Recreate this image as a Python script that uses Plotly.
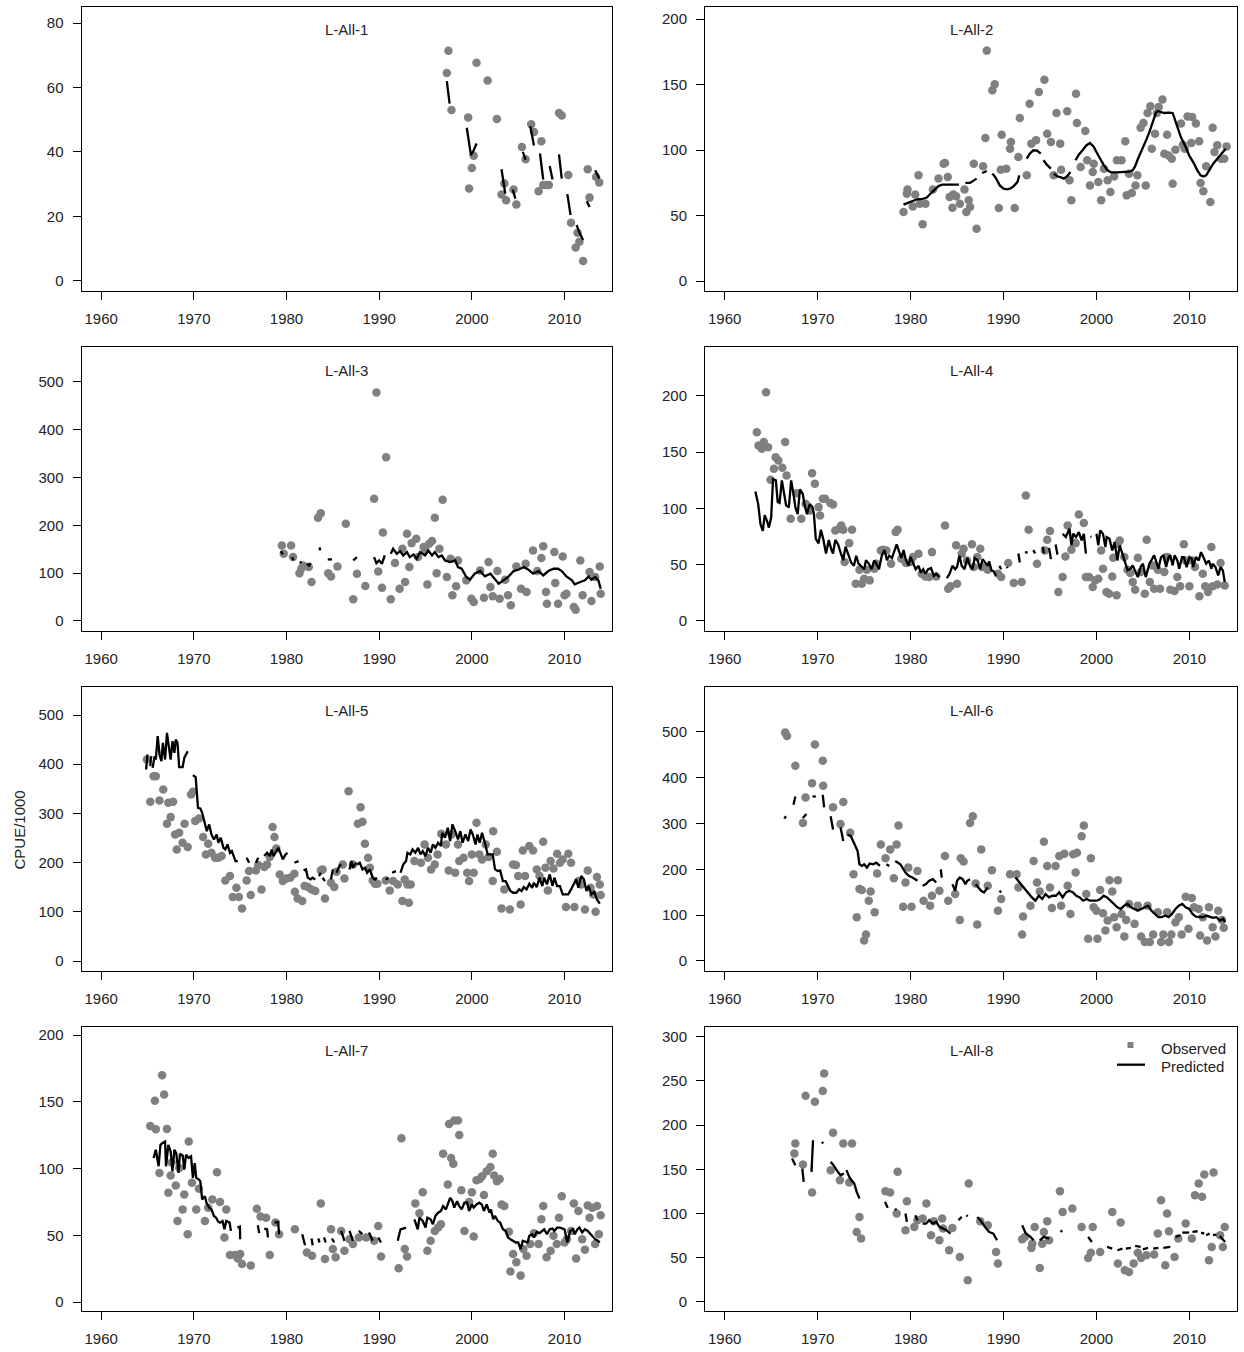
import plotly.graph_objects as go

# ---------------- data (year, CPUE/1000) ----------------
titles = ["L-All-1", "L-All-2", "L-All-3", "L-All-4", "L-All-5", "L-All-6", "L-All-7", "L-All-8"]
x_ticks = [1960, 1970, 1980, 1990, 2000, 2010]
y_ticks = [
    [0, 20, 40, 60, 80],
    [0, 50, 100, 150, 200],
    [0, 100, 200, 300, 400, 500],
    [0, 50, 100, 150, 200],
    [0, 100, 200, 300, 400, 500],
    [0, 100, 200, 300, 400, 500],
    [0, 50, 100, 150, 200],
    [0, 50, 100, 150, 200, 250, 300],
]

obs_1 = [(1997.47, 71.4), (1997.3, 64.5), (2000.5, 67.7), (2001.7, 62.2), (1997.8, 53.0), (1999.6, 50.7),
         (2002.7, 50.2), (2000.2, 38.8), (2000.0, 35.0), (1999.7, 28.6), (2003.5, 30.2), (2003.2, 26.8),
         (2003.7, 25.0), (2004.5, 28.3), (2004.8, 23.7), (2005.4, 41.5), (2005.8, 37.7), (2006.4, 48.6),
         (2006.7, 46.2), (2007.5, 43.3), (2007.2, 27.8), (2007.7, 29.7), (2008.0, 29.7), (2008.3, 29.7),
         (2009.4, 52.1), (2009.7, 51.3), (2010.4, 32.8), (2010.7, 18.0), (2011.4, 14.9), (2011.6, 12.1),
         (2011.2, 10.3), (2012.0, 6.1), (2012.5, 34.6), (2012.7, 25.8), (2013.4, 32.2), (2013.75, 30.5)]
pred_1 = [
    [(1997.3, 62), (1997.4, 60), (1997.5, 57), (1997.6, 55)],
    [(1999.45, 47.5), (1999.7, 43), (1999.9, 39), (2000.2, 40.5), (2000.5, 42.6)],
    [(2003.2, 34.6), (2003.4, 31), (2003.6, 27.1)],
    [(2004.4, 28.3), (2004.7, 25.5)],
    [(2005.5, 40), (2005.8, 37.5)],
    [(2006.3, 48), (2006.5, 45), (2006.7, 42)],
    [(2007.35, 39.5), (2007.5, 35), (2007.7, 31.4)],
    [(2008.4, 35.6), (2008.7, 31.4)],
    [(2009.4, 39.2), (2009.7, 31.7)],
    [(2010.3, 26.9), (2010.5, 23), (2010.65, 20.4)],
    [(2011.3, 17.3), (2011.6, 15), (2012.0, 12.6)],
    [(2012.4, 24.7), (2012.7, 22.9)],
    [(2013.3, 34.3), (2013.75, 31.7)],
]

obs_2 = [(1979.24, 52.7), (1979.6, 66.7), (1979.67, 69.8), (1980.24, 57.0), (1980.5, 66), (1980.85, 80.7),
         (1981.0, 59), (1981.3, 43.3), (1981.6, 59), (1982.4, 69.8), (1983.0, 78.2), (1983.55, 89.6),
         (1983.7, 90.1), (1984.0, 79.4), (1984.2, 64.2), (1984.5, 56), (1984.6, 66), (1984.9, 64.7),
         (1985.3, 59), (1985.8, 69.8), (1986.0, 52.7), (1986.25, 61.6), (1986.4, 56.5), (1986.8, 89.6),
         (1987.1, 40), (1987.8, 87.6), (1988.05, 109.2), (1988.2, 175.9), (1988.8, 145.6), (1989.05, 150.2),
         (1989.5, 55.8), (1989.7, 85), (1989.8, 111.7), (1990.3, 85.8), (1990.7, 101), (1990.8, 106.1),
         (1991.2, 55.8), (1991.6, 94.7), (1991.75, 124.5), (1992.5, 80.7), (1992.8, 135.4), (1993.0, 104.9),
         (1993.5, 107.4), (1993.8, 144.3), (1994.4, 153.7), (1994.7, 112.5), (1995.1, 106.1), (1995.4, 80.7),
         (1995.7, 128.3), (1996.1, 104.9), (1996.2, 85), (1996.85, 129.6), (1997.1, 76.9), (1997.3, 61.6),
         (1997.8, 143), (1997.9, 120.6), (1998.3, 87.1), (1998.8, 114.5), (1999.0, 92.2), (1999.3, 73),
         (1999.6, 83.2), (1999.7, 89.6), (2000.2, 75.6), (2000.5, 61.6), (2000.8, 85.8), (2001.2, 76.9),
         (2001.5, 68), (2001.9, 79.9), (2002.2, 92.2), (2002.7, 92.2), (2003.1, 106.7), (2003.25, 65.4),
         (2003.5, 82), (2003.8, 67.2), (2004.2, 73), (2004.4, 80.7), (2004.75, 117.1), (2005.05, 120.6),
         (2005.3, 73), (2005.5, 128.3), (2005.8, 133.4), (2005.95, 101), (2006.3, 112.5), (2006.5, 128.3),
         (2006.7, 132.9), (2007.1, 138.5), (2007.3, 97.2), (2007.6, 111.7), (2007.75, 95.9), (2008.1, 93.4),
         (2008.2, 74.3), (2008.5, 100.3), (2009.1, 120.2), (2009.3, 104.1), (2009.5, 101), (2009.8, 125.7),
         (2010.2, 105.4), (2010.3, 125.2), (2010.7, 120.2), (2011.05, 106.7), (2011.2, 74.8), (2011.5, 68.5),
         (2011.8, 87.6), (2012.25, 60.3), (2012.5, 117.1), (2012.7, 98.5), (2013.0, 103.6), (2013.4, 93.4),
         (2013.75, 93.4), (2014.0, 102.8)]
pred_2 = [
    [(1979.24, 58.3), (1980.0, 60.5), (1980.7, 62.4), (1981.3, 62.8), (1981.75, 63.7), (1982.1, 66.5),
     (1982.5, 69.3), (1983.0, 72.5), (1983.4, 73.6), (1984.3, 73.6), (1985.2, 73.6)],
    [(1985.9, 74.9), (1986.4, 74.9), (1987.1, 78.2)],
    [(1987.7, 82.5), (1988.2, 84)],
    [(1988.8, 82), (1989.1, 79.5), (1989.3, 76.9), (1989.6, 73), (1990.0, 70.5), (1990.4, 70), (1990.7, 70.5),
     (1991.1, 72.5), (1991.5, 75.6), (1991.7, 80.7)],
    [(1992.5, 93.4), (1992.8, 97), (1993.2, 99.8), (1993.6, 99.5), (1994.0, 97.2)],
    [(1994.3, 92.2), (1994.7, 88.5), (1995.1, 85.8)],
    [(1995.4, 82), (1995.8, 80), (1996.1, 79.4), (1996.5, 78.2), (1996.9, 80.5), (1997.2, 83.2)],
    [(1997.75, 92.2), (1998.1, 96.5), (1998.5, 99.8), (1998.9, 103.5), (1999.3, 105.4), (1999.7, 102.5),
     (2000.1, 97.2), (2000.45, 92.5), (2000.8, 88.3), (2001.2, 84.5), (2001.5, 83.2), (2002.2, 83),
     (2003.0, 83.2), (2003.5, 83.5), (2003.9, 84.5), (2004.15, 87.5), (2004.4, 92.2), (2004.75, 97.5),
     (2005.1, 103.6), (2005.4, 108.5), (2005.7, 113.8), (2006.0, 120.5), (2006.2, 125.2), (2006.4, 128.5),
     (2006.6, 129.8), (2007.3, 128.3), (2007.8, 128.5), (2008.2, 128.3), (2008.45, 123), (2008.7, 117.6),
     (2009.1, 109.5), (2009.6, 102.3), (2010.0, 95.5), (2010.5, 89.6), (2010.85, 84.5), (2011.2, 80.7),
     (2011.5, 79.8), (2011.8, 80.7), (2012.05, 83.5), (2012.3, 87.1), (2012.6, 90), (2013.0, 93.4),
     (2013.45, 97.5), (2013.9, 101)],
]

obs_3 = [(1979.5, 158), (1979.7, 140.5), (1980.5, 158), (1980.7, 133.6), (1981.4, 100), (1981.6, 109),
         (1981.8, 116), (1982.4, 112.7), (1982.7, 81.4), (1983.4, 215.7), (1983.7, 225.4), (1984.5, 100),
         (1984.8, 93.2), (1985.5, 114.1), (1986.4, 203.2), (1987.2, 45.2), (1987.6, 98.8), (1988.5, 73),
         (1989.45, 255.4), (1989.7, 478), (1989.9, 103.7), (1990.3, 69.6), (1990.4, 185.1), (1990.75, 342.4),
         (1991.25, 45.2), (1991.7, 121), (1992.2, 67.5), (1992.5, 151), (1992.8, 81.4), (1993.0, 182.3),
         (1993.25, 112.7), (1993.5, 162.8), (1994.0, 171.9), (1994.2, 133.6), (1994.8, 154.5), (1994.95, 147.5),
         (1995.2, 76.5), (1995.4, 161.4), (1995.7, 167), (1996.0, 215.7), (1996.2, 100), (1996.5, 151),
         (1996.85, 253.3), (1997.3, 91.8), (1997.7, 130.1), (1997.9, 53.6), (1998.3, 72.4), (1998.5, 126.6),
         (1999.4, 84.9), (1999.95, 46.6), (2000.2, 39.6), (2000.9, 105.8), (2001.3, 48.7), (2001.8, 123.1),
         (2002.0, 71), (2002.25, 51.5), (2002.75, 104.4), (2003.0, 46.6), (2003.6, 86.3), (2003.9, 53.6),
         (2004.2, 32.7), (2004.8, 114.1), (2005.3, 67.5), (2005.8, 119.7), (2005.9, 60.5), (2006.6, 147.5),
         (2007.05, 104.4), (2007.5, 131.5), (2007.7, 156.5), (2008.0, 60.5), (2008.1, 36.2), (2008.9, 144),
         (2009.0, 79.3), (2009.3, 36.2), (2009.8, 135), (2010.0, 53.6), (2010.2, 57), (2011.0, 29.2),
         (2011.2, 23.6), (2011.7, 126.6), (2011.95, 53.6), (2012.7, 102.3), (2012.9, 41.7), (2013.3, 91.8),
         (2013.8, 114.1), (2013.9, 57)]
pred_3 = [
    [(1979.4, 146), (1979.6, 139)],
    [(1980.6, 133.6), (1980.75, 126.6)],
    [(1981.45, 124.5), (1981.6, 121)],
    [(1982.2, 119.7), (1982.45, 116), (1982.6, 121)],
    [(1983.55, 154), (1983.65, 147.5)],
    [(1984.45, 128.7), (1984.9, 128.7)],
    [(1987.2, 126.6), (1987.6, 133.6)],
    [(1989.45, 133.6), (1989.7, 121), (1990.0, 126.6), (1990.3, 119.7), (1990.6, 137)],
    [(1991.25, 140.5), (1991.5, 151), (1991.9, 140.5), (1992.25, 146), (1992.6, 137), (1993.0, 144),
     (1993.3, 133.6), (1993.7, 139), (1994.05, 130.1), (1994.4, 144), (1994.95, 137), (1995.3, 147.5),
     (1995.7, 137), (1996.0, 144), (1996.4, 133.6), (1996.75, 137), (1997.1, 126.6), (1997.65, 123.1),
     (1998.2, 126.6), (1998.5, 112.7), (1998.9, 109.2), (1999.4, 91.8), (1999.8, 86.3), (2000.3, 98.8),
     (2000.9, 104.4), (2001.4, 93.2), (2002.0, 98.8), (2002.3, 91.8), (2002.9, 78), (2003.4, 84.9),
     (2003.9, 91.8), (2004.5, 104.4), (2005.0, 107.1), (2005.6, 112.7), (2006.1, 107.1), (2006.6, 98.8),
     (2007.2, 104.4), (2007.7, 95.3), (2008.25, 104.4), (2008.8, 109.2), (2009.3, 109.2), (2009.7, 104.4),
     (2010.2, 93.2), (2010.8, 84.9), (2011.1, 76.5), (2011.7, 81.4), (2012.2, 84.9), (2012.6, 93.2),
     (2012.9, 86.3), (2013.3, 91.8), (2013.65, 84.9), (2013.9, 67.5)],
]

obs_4 = [(1963.46, 167.8), (1963.64, 156), (1963.83, 155.1), (1964.0, 153), (1964.2, 159), (1964.45, 203.3),
         (1964.67, 154.5), (1964.93, 125.5), (1965.3, 135.3), (1965.48, 145.6), (1965.77, 142.6), (1966.2, 136.1),
         (1966.5, 159), (1966.66, 129.3), (1967.1, 90.8), (1967.7, 113.6), (1968.24, 90.8), (1968.7, 104.2),
         (1969.16, 98.2), (1969.4, 131.4), (1969.7, 121.9), (1970.1, 101.2), (1970.26, 93.8), (1970.55, 108.6),
         (1970.8, 108.6), (1971.36, 104.8), (1971.66, 103.6), (1971.9, 80.5), (1972.3, 81.9), (1972.54, 84.9),
         (1972.76, 81.1), (1972.9, 52.4), (1973.4, 69.2), (1973.7, 81.1), (1974.1, 33.1), (1974.5, 45.5),
         (1974.75, 33.1), (1975.0, 37.6), (1975.3, 45.5), (1975.6, 36.1), (1976.1, 46.5), (1976.3, 50.9),
         (1976.8, 62.7), (1977.06, 63.3), (1977.4, 62.7), (1977.9, 50.9), (1978.4, 79), (1978.6, 81.1),
         (1979.0, 55.3), (1979.5, 51.5), (1980.0, 52.4), (1980.26, 56.8), (1980.85, 59.8), (1981.2, 42),
         (1981.6, 39.6), (1982.0, 39), (1982.3, 61.2), (1982.76, 39.6), (1983.7, 84.9), (1984.05, 28.7),
         (1984.3, 30.8), (1984.9, 67.2), (1985.0, 33.1), (1985.5, 59.8), (1985.7, 64.2), (1986.07, 53.8),
         (1986.6, 68.1), (1986.8, 47.9), (1987.17, 56.8), (1987.5, 64.2), (1987.7, 47.9), (1988.3, 45.5),
         (1989.4, 42), (1989.75, 39), (1990.5, 51.5), (1991.1, 33.7), (1991.95, 34.6), (1992.4, 111.6),
         (1992.7, 81.1), (1993.6, 50.9), (1994.45, 62.7), (1994.7, 72.2), (1995.0, 79.9), (1995.9, 25.7),
         (1996.36, 39), (1996.66, 57.4), (1996.9, 84.9), (1997.3, 63.3), (1997.76, 69.2), (1998.1, 94.7),
         (1998.64, 87), (1998.86, 39), (1999.2, 39), (1999.6, 30.2), (1999.86, 36.1), (2000.2, 37.6),
         (2000.5, 62.7), (2000.7, 46.5), (2001.07, 25.7), (2001.36, 24.2), (2001.7, 39.6), (2001.8, 56.2),
         (2002.17, 22.8), (2002.3, 68.6), (2002.5, 71.6), (2003.0, 56.8), (2003.35, 45.5), (2003.64, 42.6),
         (2003.9, 34.6), (2004.16, 27.8), (2004.45, 56.2), (2004.75, 43.5), (2005.2, 24.2), (2005.4, 72.2),
         (2005.74, 34.6), (2006.0, 49.4), (2006.2, 28.7), (2006.6, 45.5), (2006.84, 28.7), (2007.3, 43.5),
         (2007.6, 56.8), (2007.94, 27.8), (2008.4, 26.6), (2008.7, 39), (2009.0, 30.8), (2009.4, 68.1),
         (2009.6, 53.8), (2010.0, 30.8), (2010.26, 53.8), (2010.6, 47.9), (2011.07, 21.9), (2011.44, 42),
         (2011.7, 30.8), (2012.0, 25.7), (2012.36, 65.7), (2012.5, 30.8), (2013.0, 32.5), (2013.35, 51.5),
         (2013.8, 31.6)]
pred_4 = [
    [(1963.3, 115), (1963.6, 104), (1963.85, 86), (1964.1, 80), (1964.3, 94), (1964.55, 89), (1964.75, 83),
     (1965.0, 92), (1965.2, 126), (1965.5, 125), (1965.7, 106), (1965.9, 105), (1966.15, 125), (1966.4, 113),
     (1966.6, 103), (1966.9, 101), (1967.15, 125), (1967.4, 113), (1967.6, 101), (1967.85, 95), (1968.1, 117),
     (1968.4, 113), (1968.6, 103), (1968.85, 95), (1969.15, 104), (1969.45, 101), (1969.6, 95), (1969.8, 73),
     (1970.1, 69), (1970.35, 81), (1970.6, 73), (1970.9, 60), (1971.2, 72), (1971.45, 64), (1971.65, 60),
     (1971.9, 72), (1972.2, 68), (1972.5, 60), (1972.75, 54), (1973.0, 66), (1973.3, 58), (1973.6, 52),
     (1973.9, 49), (1974.15, 58), (1974.4, 51), (1974.7, 48), (1975.0, 46), (1975.2, 54), (1975.5, 51),
     (1975.8, 46), (1976.1, 54), (1976.3, 51), (1976.6, 46), (1976.9, 58), (1977.2, 63), (1977.45, 54),
     (1977.7, 58), (1978.0, 56), (1978.3, 63), (1978.5, 68), (1978.75, 62), (1979.0, 56), (1979.25, 63),
     (1979.5, 54), (1979.8, 49), (1980.0, 57), (1980.3, 51), (1980.55, 46), (1980.85, 49), (1981.1, 43),
     (1981.35, 46), (1981.6, 42), (1981.9, 46), (1982.2, 47), (1982.5, 40), (1982.75, 42), (1983.1, 39)],
    [(1983.9, 38), (1984.2, 42), (1984.5, 49), (1984.8, 46), (1985.0, 48), (1985.25, 58), (1985.5, 49),
     (1985.8, 46), (1986.1, 56), (1986.4, 49), (1986.65, 46), (1986.9, 56), (1987.2, 54), (1987.5, 46),
     (1987.75, 55), (1988.0, 52), (1988.3, 49), (1988.45, 53), (1988.7, 45), (1988.95, 44), (1989.2, 40)],
    [(1989.56, 49), (1989.75, 46)],
    [(1990.35, 48), (1990.45, 47)],
    [(1991.6, 60), (1991.75, 52)],
    [(1992.3, 61), (1992.6, 61)],
    [(1993.2, 63), (1993.4, 60)],
    [(1994.2, 66), (1994.35, 60)],
    [(1994.9, 65), (1995.1, 55)],
    [(1995.6, 68), (1995.8, 59)],
    [(1996.36, 77.5), (1996.7, 74.6), (1997.1, 82), (1997.3, 67.2), (1997.5, 77.5), (1997.8, 74.6),
     (1998.1, 79), (1998.4, 71.6), (1998.64, 77.5), (1998.86, 59.8)],
    [(1999.35, 75), (1999.45, 74.6)],
    [(2000.0, 77.5), (2000.2, 67.2), (2000.4, 80.5), (2000.7, 77.5), (2000.96, 65.7), (2001.1, 74.6),
     (2001.4, 73.1), (2001.7, 62.7), (2001.95, 70.1), (2002.25, 53.8), (2002.5, 67.2), (2002.8, 59.8),
     (2003.05, 53.8), (2003.35, 45), (2003.64, 46.4), (2003.9, 49.4), (2004.2, 43.5), (2004.45, 39),
     (2004.75, 47.9), (2005.0, 50.9), (2005.3, 39), (2005.55, 46.4), (2005.7, 50.9), (2006.0, 55.3),
     (2006.2, 58.3), (2006.5, 50.9), (2006.66, 46.4), (2006.95, 56.8), (2007.2, 58.3), (2007.5, 47.9),
     (2007.76, 56.8), (2007.94, 58.3), (2008.2, 49.4), (2008.4, 58.3), (2008.7, 53.8), (2008.9, 46.4),
     (2009.2, 56.8), (2009.4, 56.8), (2009.7, 47.9), (2010.0, 56.8), (2010.26, 55.3), (2010.4, 47.9),
     (2010.7, 56.8), (2011.0, 53.8), (2011.25, 61.2), (2011.5, 56.8), (2011.8, 50.9), (2012.1, 53.8),
     (2012.36, 46.4), (2012.5, 50.9), (2012.8, 47.9), (2013.1, 40.5), (2013.35, 47.9), (2013.6, 45),
     (2013.8, 34.6)],
]

obs_5 = [(1964.93, 409.6), (1965.3, 323.6), (1965.66, 375.8), (1965.9, 375.8), (1966.29, 326.3), (1966.7, 348.7),
         (1967.1, 278.9), (1967.25, 321.6), (1967.5, 292.5), (1967.76, 323.6), (1967.98, 257.3), (1968.16, 226.8),
         (1968.42, 260.7), (1968.79, 240.4), (1969.0, 278.9), (1969.34, 231.6), (1969.7, 338.5), (1969.9, 343.9),
         (1970.15, 284.4), (1970.55, 289.8), (1971.0, 251.9), (1971.3, 216.7), (1971.55, 238.3), (1971.9, 220),
         (1972.3, 209.9), (1972.65, 209.9), (1973.0, 213.3), (1973.4, 163.8), (1973.9, 172.6), (1974.2, 130),
         (1974.6, 149), (1974.86, 130), (1975.2, 107), (1975.7, 163.8), (1975.96, 182.8), (1976.14, 134.1),
         (1976.7, 184.2), (1976.95, 195), (1977.3, 145.6), (1977.6, 190.9), (1977.9, 196.3), (1978.2, 211.2),
         (1978.5, 272.2), (1978.7, 251.9), (1978.9, 228.8), (1979.27, 176), (1979.6, 162.5), (1980.0, 167.9),
         (1980.4, 169.3), (1980.85, 177.4), (1980.9, 140.8), (1981.2, 127.3), (1981.7, 121.9), (1981.95, 152.3),
         (1982.3, 150.3), (1982.7, 145.6), (1983.1, 142.2), (1983.7, 184.2), (1983.9, 186.2), (1984.15, 127.3),
         (1984.8, 159.1), (1985.15, 150.3), (1985.4, 181.4), (1986.07, 196.3), (1986.25, 167.9), (1986.7, 345.3),
         (1987.17, 196.3), (1987.7, 278.9), (1988.0, 312.8), (1988.2, 283), (1988.46, 238.3), (1988.8, 209.9),
         (1989.0, 189.6), (1989.3, 163.8), (1989.56, 157.1), (1989.8, 157.1), (1990.7, 163.8), (1991.14, 143.5),
         (1991.5, 162.5), (1992.0, 155.7), (1992.5, 121.9), (1992.76, 165.9), (1993.05, 155.7), (1993.2, 118.5),
         (1993.4, 155.7), (1993.8, 203.1), (1994.5, 199.7), (1994.9, 237), (1995.26, 209.9), (1995.6, 186.2),
         (1996.0, 196.3), (1996.3, 216.7), (1996.7, 258.6), (1997.2, 237), (1997.5, 184.2), (1997.8, 257.3),
         (1998.2, 179.4), (1998.5, 237), (1998.64, 203.1), (1999.1, 209.9), (1999.5, 179.4), (1999.7, 162.5),
         (2000.0, 216.7), (2000.2, 179.4), (2000.5, 281), (2000.8, 216.7), (2001.1, 206.5), (2001.5, 237),
         (2001.8, 211.2), (2002.3, 264), (2002.25, 162.5), (2002.7, 222.1), (2003.2, 107), (2003.5, 145.6),
         (2004.1, 104.9), (2004.45, 196.3), (2004.75, 195), (2005.0, 172.6), (2005.26, 115.1), (2005.5, 224.8),
         (2005.74, 172.6), (2006.2, 233.6), (2006.6, 224.8), (2007.0, 186.2), (2007.3, 172.6), (2007.7, 242.4),
         (2007.94, 189.6), (2008.2, 143.5), (2008.5, 203.1), (2008.8, 188.2), (2009.2, 218), (2009.5, 199.7),
         (2009.8, 206.5), (2010.15, 109.7), (2010.4, 218), (2010.7, 199.7), (2011.07, 109.7), (2011.5, 162.5),
         (2011.8, 155.7), (2012.2, 104.9), (2012.5, 184.2), (2012.8, 149), (2013.1, 135.4), (2013.35, 100.2),
         (2013.5, 170.6), (2013.8, 155.7), (2013.9, 134.1)]
pred_5 = [
    [(1964.85, 389.3), (1965.0, 419.8)],
    [(1965.3, 396), (1965.4, 416.4)],
    [(1965.55, 392.7), (1965.77, 416.4), (1965.9, 409.6), (1966.1, 457), (1966.3, 419.8), (1966.5, 406.2),
     (1966.66, 443.5), (1966.9, 409.6), (1967.1, 463.8), (1967.3, 436.7), (1967.5, 409.6), (1967.7, 446.8),
     (1967.9, 423.2), (1968.05, 450.2), (1968.24, 443.5), (1968.42, 394), (1968.79, 394), (1968.97, 412.9),
     (1969.34, 426.5)],
    [(1969.9, 377.8), (1970.2, 373.7), (1970.45, 311.4), (1970.7, 310.1), (1970.9, 301.3), (1971.4, 264),
     (1971.66, 277.6), (1971.9, 257.3), (1972.17, 247.1), (1972.46, 257.3), (1972.65, 240.4), (1972.9, 250.5),
     (1973.2, 230.2), (1973.4, 226.8), (1973.64, 237), (1973.9, 220), (1974.1, 223.4), (1974.5, 203.1),
     (1974.75, 203.1)],
    [(1975.7, 209.9), (1975.96, 199.7)],
    [(1976.7, 199.7), (1976.95, 209.9)],
    [(1977.6, 213.3), (1977.9, 220), (1978.2, 213.3), (1978.4, 226.8), (1978.6, 213.3), (1978.9, 223.4),
     (1979.1, 230.2), (1979.4, 216.7), (1979.6, 206.5), (1979.9, 216.7), (1980.1, 220)],
    [(1980.85, 199.7), (1981.3, 203.1)],
    [(1981.84, 184.2), (1982.1, 186.2), (1982.3, 169.3), (1982.6, 165.9), (1982.8, 169.3), (1983.1, 165.9)],
    [(1983.5, 172.6), (1983.7, 179.4)],
    [(1983.9, 169.3), (1984.15, 162.5)],
    [(1984.8, 165.9), (1985.0, 186.2)],
    [(1985.4, 179.4), (1985.7, 193), (1985.9, 196.3)],
    [(1986.8, 186.2), (1987.0, 203.1), (1987.17, 189.6), (1987.5, 199.7)],
    [(1987.6, 196.3), (1987.9, 199.7), (1988.2, 186.2), (1988.46, 189.6), (1988.7, 179.4), (1989.0, 186.2),
     (1989.3, 169.3), (1989.56, 165.9), (1989.75, 169.3)],
    [(1990.7, 165.9), (1991.0, 169.3)],
    [(1991.4, 179.4), (1991.8, 182.8)],
    [(1992.3, 179.4), (1992.6, 196.3), (1992.9, 203.1), (1993.05, 220), (1993.35, 216.7), (1993.6, 226.8),
     (1993.9, 220), (1994.2, 230.2), (1994.45, 216.7), (1994.7, 223.4), (1995.0, 213.3), (1995.26, 230.2),
     (1995.55, 220), (1995.8, 237), (1996.07, 230.2), (1996.36, 240.4), (1996.66, 233.6), (1996.8, 260.7),
     (1997.1, 250.5), (1997.4, 270.8), (1997.65, 243.7), (1997.9, 277.6), (1998.2, 264), (1998.5, 247.1),
     (1998.75, 264), (1999.0, 240.4), (1999.3, 257.3), (1999.6, 243.7), (1999.86, 267.4), (2000.1, 257.3),
     (2000.4, 237), (2000.6, 257.3), (2000.85, 240.4), (2001.1, 260.7), (2001.45, 237), (2001.7, 216.7),
     (2002.25, 216.7), (2002.5, 186.2), (2002.8, 182.8), (2003.05, 184.2), (2003.35, 162.5), (2003.64, 162.5),
     (2003.9, 152.3), (2004.16, 142.2), (2004.45, 138.8), (2004.8, 138.8), (2005.1, 145.6), (2005.37, 142.2),
     (2005.6, 150.3), (2005.9, 145.6), (2006.2, 157.1), (2006.5, 148.9), (2006.7, 159.1), (2007.0, 150.3),
     (2007.3, 169.3), (2007.6, 152.3), (2007.8, 169.3), (2008.1, 155.7), (2008.4, 176), (2008.7, 152.3),
     (2008.9, 169.3), (2009.2, 152.3), (2009.5, 152.3), (2009.8, 135.4), (2010.15, 135.4), (2010.4, 135.4),
     (2010.7, 145.6), (2011.0, 155.7), (2011.25, 165.9), (2011.5, 148.9), (2011.8, 172.6), (2012.1, 165.9),
     (2012.36, 142.2), (2012.6, 152.3), (2012.9, 135.4), (2013.2, 140.8), (2013.5, 125.3), (2013.8, 116.5)],
]

obs_6 = [(1966.5, 498.6), (1966.7, 491.3), (1967.6, 426.3), (1968.42, 301.3), (1968.7, 356.9), (1969.4, 388),
         (1969.7, 472.5), (1970.55, 437.1), (1970.6, 382.2), (1971.66, 335.3), (1972.46, 299.1), (1972.76, 346.8),
         (1973.5, 279.6), (1973.86, 189.3), (1974.2, 95.4), (1974.5, 156.8), (1974.75, 154.6), (1975.0, 44.8),
         (1975.2, 57.8), (1975.5, 131.5), (1975.7, 151.7), (1976.14, 106.2), (1976.4, 190.8), (1976.8, 254.3),
         (1977.3, 224), (1977.8, 243.5), (1978.2, 180.6), (1978.5, 254.3), (1978.7, 295.5), (1979.2, 118.5),
         (1979.45, 171.2), (1979.75, 203.8), (1980.1, 118.5), (1980.74, 196.5), (1981.4, 131.5), (1982.1, 120.7),
         (1982.3, 142.3), (1983.1, 153.2), (1983.7, 229), (1984.05, 131.5), (1984.8, 146), (1985.3, 89.6),
         (1985.4, 224), (1985.7, 216.8), (1986.4, 301.3), (1986.7, 315.8), (1987.0, 169.1), (1987.17, 79.5),
         (1987.6, 243.5), (1988.3, 164), (1988.75, 198), (1989.4, 109.8), (1989.75, 135.1), (1990.7, 189.3),
         (1991.4, 189.3), (1991.6, 160.4), (1992.0, 57.8), (1992.1, 96.8), (1992.9, 120.7), (1993.24, 218.2),
         (1993.6, 171.2), (1993.9, 151.7), (1994.34, 260.1), (1994.7, 207.4), (1995.0, 160.4), (1995.2, 115.6),
         (1995.6, 207.4), (1996.0, 229), (1996.2, 120.7), (1996.55, 234.1), (1996.9, 164), (1997.2, 102.6),
         (1997.5, 232.7), (1997.76, 192.9), (1997.9, 236.3), (1998.4, 272.4), (1998.64, 295.5), (1998.9, 146),
         (1999.1, 48.4), (1999.4, 224), (1999.7, 117.1), (2000.0, 109.8), (2000.1, 48.4), (2000.4, 154.6),
         (2000.7, 104), (2000.96, 66.5), (2001.2, 88.2), (2001.4, 176.3), (2001.7, 151.7), (2001.9, 95.4),
         (2002.17, 73.7), (2002.3, 176.3), (2002.7, 102.6), (2003.0, 53.5), (2003.2, 89.6), (2003.5, 124.3),
         (2004.1, 80.9), (2004.45, 120.7), (2004.8, 53.5), (2005.2, 41.2), (2005.5, 120.7), (2005.74, 41.2),
         (2006.1, 57.8), (2006.6, 106.2), (2006.95, 41.2), (2007.2, 57.8), (2007.6, 106.2), (2007.8, 41.2),
         (2008.06, 57.8), (2008.5, 84.5), (2008.86, 95.4), (2009.16, 57.8), (2009.6, 140.2), (2009.9, 70.1),
         (2010.26, 137.3), (2010.5, 117.1), (2011.0, 113.4), (2011.15, 55.6), (2011.44, 95.4), (2011.9, 44.8),
         (2012.1, 117.1), (2012.5, 73.7), (2012.8, 53.5), (2013.1, 109.8), (2013.5, 89.6), (2013.7, 72.3)]
pred_6 = [
    [(1966.4, 310.7), (1966.6, 315.8)],
    [(1967.4, 341), (1967.6, 359)],
    [(1968.4, 312), (1968.8, 320.8)],
    [(1969.45, 359), (1969.8, 359)],
    [(1970.55, 362.7), (1970.7, 335.3)],
    [(1971.4, 315.8), (1971.66, 286.8)],
    [(1972.46, 291.9), (1972.76, 261.6)],
    [(1973.2, 276), (1973.57, 272.4), (1973.9, 258), (1974.3, 239.9), (1974.5, 211), (1974.75, 207.4),
     (1975.0, 211), (1975.3, 203.8), (1975.6, 212.4), (1975.96, 211), (1976.3, 214.6), (1976.7, 207.4)],
    [(1977.4, 211), (1977.7, 207.4)],
    [(1978.35, 218.2), (1978.9, 211), (1979.45, 192.9), (1979.8, 185.7), (1980.2, 182.1), (1980.74, 174.9)],
    [(1981.3, 164), (1981.66, 167.6), (1982.0, 174.9), (1982.4, 178.5), (1982.76, 171.2)],
    [(1983.25, 200), (1983.35, 182)],
    [(1984.5, 167.6), (1984.8, 153.2), (1985.0, 174.9), (1985.3, 182.1), (1985.6, 178.5), (1985.9, 167.6),
     (1986.1, 174.9), (1986.4, 178.5)],
    [(1987.0, 167.6), (1987.35, 160.4), (1987.6, 153.2), (1987.9, 149.6), (1988.3, 160.4)],
    [(1989.56, 153.2), (1989.75, 149.6)],
    [(1991.29, 182.1), (1991.58, 174.9), (1991.95, 164), (1992.32, 156.8), (1992.69, 146), (1993.05, 138.7),
     (1993.42, 131.5), (1993.79, 142.3), (1994.16, 135.1), (1994.52, 146), (1994.89, 138.7), (1995.26, 142.3),
     (1995.63, 142.3), (1995.99, 149.6), (1996.36, 138.7), (1996.73, 149.6), (1997.1, 153.2), (1997.47, 149.6),
     (1997.83, 142.3), (1998.2, 138.7), (1998.57, 131.5), (1998.94, 135.1), (1999.3, 131.5), (1999.67, 131.5),
     (2000.04, 131.5), (2000.41, 135.1), (2000.77, 142.3), (2001.14, 138.7), (2001.51, 131.5), (2001.88, 124.3),
     (2002.25, 117.1), (2002.61, 113.4), (2002.98, 120.7), (2003.35, 124.3), (2003.72, 117.1), (2004.08, 113.4),
     (2004.45, 109.8), (2004.82, 113.4), (2005.19, 117.1), (2005.55, 120.7), (2005.92, 109.8), (2006.29, 102.6),
     (2006.66, 95.4), (2007.03, 95.4), (2007.39, 99), (2007.76, 95.4), (2008.13, 102.6), (2008.5, 113.4),
     (2008.86, 120.7), (2009.23, 124.3), (2009.6, 117.1), (2009.97, 113.4), (2010.33, 102.6), (2010.7, 96.8),
     (2011.07, 96.8), (2011.44, 95.4), (2011.8, 99), (2012.17, 96.8), (2012.54, 93.9), (2012.91, 95.4),
     (2013.28, 88.2), (2013.64, 91.8), (2013.83, 84.5)],
]

obs_7 = [(1965.3, 131.9), (1965.8, 150.8), (1965.9, 129.4), (1966.29, 96.7), (1966.58, 169.9), (1966.8, 155.5),
         (1967.1, 129.7), (1967.25, 81.8), (1967.5, 94.7), (1967.6, 104.6), (1968.05, 87.3), (1968.24, 60.7),
         (1968.42, 100.4), (1968.79, 69.4), (1968.97, 80.6), (1969.34, 50.8), (1969.45, 120.3), (1969.8, 89.3),
         (1970.26, 69.4), (1970.55, 84.8), (1971.2, 60.7), (1971.55, 70.7), (1972.0, 76.9), (1972.5, 97.2),
         (1972.83, 74.9), (1973.3, 48.4), (1973.5, 69.4), (1973.9, 35.2), (1974.4, 35.2), (1974.75, 32.7),
         (1975.0, 36), (1975.2, 28.5), (1976.14, 27.3), (1976.8, 69.9), (1977.2, 64), (1977.8, 63.2),
         (1978.2, 35.2), (1978.8, 59.5), (1979.2, 50.8), (1980.9, 54.5), (1982.2, 37.2), (1982.76, 34.7),
         (1983.7, 73.9), (1984.15, 32.2), (1984.8, 54.5), (1985.0, 39.7), (1985.3, 33.5), (1985.9, 53.3),
         (1986.25, 38.4), (1986.8, 47.1), (1987.17, 43.4), (1987.8, 48.4), (1988.6, 48.4), (1989.45, 45.9),
         (1989.9, 57), (1990.2, 34.2), (1992.1, 25.3), (1992.4, 122.7), (1992.76, 39.7), (1993.0, 34.2),
         (1993.9, 73.9), (1994.34, 66.5), (1994.7, 82.3), (1995.2, 38.4), (1995.55, 45.9), (1996.0, 53.3),
         (1996.36, 55.8), (1996.66, 58.3), (1996.9, 111.1), (1997.4, 88), (1997.54, 133.4), (1997.76, 107.9),
         (1998.0, 103.6), (1998.1, 135.9), (1998.5, 135.9), (1998.64, 125.2), (1998.86, 83.8), (1999.2, 53.3),
         (1999.7, 74.9), (2000.0, 82.3), (2000.2, 49.1), (2000.5, 91.2), (2000.85, 92.2), (2001.1, 94.2),
         (2001.3, 80.1), (2001.6, 97.9), (2002.0, 101.2), (2002.25, 111.1), (2002.4, 94.7), (2002.7, 90.5),
         (2003.0, 92.2), (2003.2, 73.1), (2003.5, 71.9), (2004.0, 52.6), (2004.16, 22.8), (2004.45, 36),
         (2004.8, 29.8), (2005.26, 19.8), (2005.55, 39.7), (2005.9, 34.7), (2006.3, 43.4), (2006.7, 51.6),
         (2007.2, 43.4), (2007.5, 62), (2007.7, 71.9), (2008.06, 33.5), (2008.5, 38.4), (2008.8, 49.6),
         (2009.16, 43.4), (2009.4, 63.2), (2009.7, 79.3), (2010.0, 44.6), (2010.26, 47.1), (2010.7, 53.3),
         (2011.0, 73.9), (2011.25, 32.7), (2011.5, 68.2), (2011.9, 47.1), (2012.2, 39.2), (2012.5, 72.4),
         (2012.7, 63.2), (2013.0, 70.7), (2013.3, 43.4), (2013.5, 71.9), (2013.7, 50.8), (2013.9, 65)]
pred_7 = [
    [(1965.66, 107.9), (1965.9, 114.1), (1966.2, 101.7), (1966.4, 117.8), (1966.6, 119), (1966.9, 120.3),
     (1967.0, 101.7), (1967.25, 117.8), (1967.5, 112.8), (1967.7, 97.9), (1967.9, 114.1), (1968.1, 111.6),
     (1968.35, 96.7), (1968.5, 111.1), (1968.8, 109.6), (1968.97, 99.2), (1969.16, 110.3), (1969.45, 107.9),
     (1969.7, 109.1), (1969.9, 93), (1970.1, 104.1), (1970.26, 93), (1970.55, 91.7), (1970.7, 90.5),
     (1970.9, 76.9), (1971.2, 79.3), (1971.36, 74.4), (1971.66, 70.7), (1971.9, 69.4), (1972.17, 64.5),
     (1972.4, 63.2), (1972.65, 60), (1972.83, 59.5), (1973.1, 60.7), (1973.3, 54.5), (1973.5, 60.7),
     (1973.86, 59.5), (1974.0, 53.3)],
    [(1974.7, 55.8), (1974.97, 56.5), (1975.0, 47.1)],
    [(1976.9, 57.5), (1977.06, 51.6)],
    [(1977.6, 55), (1977.9, 54.5), (1978.0, 48.4)],
    [(1978.7, 59.5), (1979.1, 60), (1979.2, 50.8)],
    [(1981.7, 50.8), (1982.0, 42.6)],
    [(1982.7, 47.6), (1982.83, 42.6)],
    [(1983.42, 47.6), (1983.57, 44.6)],
    [(1984.05, 48.4), (1984.23, 44.6)],
    [(1984.9, 47.6), (1985.15, 44.6)],
    [(1985.9, 53.3), (1986.25, 45.9)],
    [(1986.8, 53.3), (1987.17, 45.9)],
    [(1987.8, 53.3), (1988.2, 50.8)],
    [(1988.9, 52.1), (1989.3, 45.9)],
    [(1989.9, 48.4), (1990.2, 44.6)],
    [(1992.0, 45.9), (1992.3, 54.5), (1992.9, 55.8)],
    [(1993.8, 62), (1994.16, 54.5), (1994.34, 63.2), (1994.7, 60.7), (1995.0, 55.8), (1995.2, 63.2),
     (1995.55, 62), (1995.8, 58.3), (1996.07, 64.5), (1996.36, 66.9), (1996.66, 68.2), (1996.9, 71.9),
     (1997.2, 69.4), (1997.4, 73.1), (1997.65, 78.1), (1997.9, 75.6), (1998.1, 70.7), (1998.4, 75.6),
     (1998.64, 71.9), (1998.9, 69.4), (1999.2, 74.4), (1999.5, 74.4), (1999.7, 68.2), (2000.0, 73.1),
     (2000.2, 70.7), (2000.5, 73.1), (2000.8, 74.4), (2001.07, 73.1), (2001.3, 68.2), (2001.6, 73.1),
     (2001.9, 66.9), (2002.06, 69.4), (2002.3, 62), (2002.5, 64.5), (2002.8, 60.7), (2003.05, 59.5),
     (2003.35, 54.5), (2003.64, 53.3), (2003.9, 48.4), (2004.16, 47.1), (2004.45, 45.9), (2004.75, 44.6),
     (2005.0, 44.6), (2005.26, 39.7), (2005.5, 45.9), (2005.74, 45.1), (2006.0, 44.6), (2006.2, 49.6),
     (2006.5, 50.8), (2006.7, 48.4), (2007.0, 52.6), (2007.3, 51.6), (2007.6, 53.3), (2007.8, 54.5),
     (2008.1, 50.8), (2008.4, 54.5), (2008.7, 55), (2008.9, 53.3), (2009.2, 55.8), (2009.5, 55.8),
     (2009.8, 55), (2010.0, 54.5), (2010.3, 44.6), (2010.6, 53.3), (2010.9, 54.5), (2011.1, 50.8),
     (2011.4, 54.5), (2011.6, 55.8), (2011.9, 52.1), (2012.2, 54.5), (2012.5, 53.3), (2012.7, 51.6),
     (2013.0, 49.6), (2013.3, 47.1), (2013.6, 45.9), (2013.8, 44.6)],
]

obs_8 = [(1967.5, 167.9), (1967.6, 179.2), (1968.42, 155.5), (1968.7, 233.2), (1969.4, 123.8), (1969.7, 226.4),
         (1970.55, 238.5), (1970.7, 258.5), (1971.4, 149.1), (1971.66, 191.3), (1972.4, 137.7), (1972.76, 179.2),
         (1973.4, 135.1), (1973.7, 179.2), (1974.2, 79.2), (1974.5, 96.2), (1974.67, 71.7), (1977.3, 125.3),
         (1977.8, 123.8), (1978.5, 100), (1978.6, 147.2), (1979.45, 81.1), (1979.6, 114), (1980.4, 84.9),
         (1980.74, 92.5), (1981.3, 94.3), (1981.7, 111.3), (1982.2, 75.5), (1982.5, 91.3), (1983.1, 69.8),
         (1983.4, 94.3), (1983.5, 83), (1984.15, 58.5), (1984.5, 83.8), (1985.3, 50.9), (1986.25, 134),
         (1986.15, 24.5), (1987.5, 91.3), (1988.3, 86.8), (1989.2, 56.6), (1989.4, 43.4), (1992.0, 70.9),
         (1992.3, 73.6), (1993.0, 61.1), (1993.1, 66), (1993.35, 84.9), (1993.9, 38.5), (1994.16, 66),
         (1994.34, 79.2), (1994.7, 91.3), (1994.9, 69.8), (1996.07, 125.3), (1996.36, 101.9), (1997.4, 105.7),
         (1998.4, 84.9), (1999.1, 49.8), (1999.4, 55.8), (1999.6, 84.9), (2000.4, 56.6), (2001.7, 101.9),
         (2002.3, 43.4), (2002.6, 89.8), (2003.05, 35.8), (2003.5, 34), (2004.0, 43.4), (2004.45, 55.8),
         (2004.8, 49.8), (2005.37, 52.8), (2006.2, 53.6), (2006.6, 77.4), (2006.95, 115.1), (2007.4, 41.5),
         (2007.6, 100), (2007.8, 80), (2008.4, 50.9), (2008.8, 71.7), (2009.6, 88.7), (2010.26, 71.7),
         (2010.6, 120.8), (2011.0, 134), (2011.36, 118.9), (2011.6, 144.2), (2012.1, 47.2), (2012.4, 62.3),
         (2012.6, 146.4), (2013.3, 75.5), (2013.6, 62.3), (2013.8, 84.9)]
pred_8 = [
    [(1967.25, 162.3), (1967.6, 154.7)],
    [(1968.35, 150.9), (1968.5, 135.8)],
    [(1969.34, 147.2), (1969.5, 183)],
    [(1970.45, 179.2), (1970.6, 181.1)],
    [(1971.4, 158.5), (1971.7, 154.7), (1972.17, 147.2), (1972.46, 143.4), (1972.83, 145.3)],
    [(1973.1, 149.1), (1973.4, 141.5), (1973.64, 137.7), (1973.94, 134), (1974.2, 124.5), (1974.5, 117)],
    [(1977.25, 113.2), (1977.54, 106.4)],
    [(1978.35, 105.7), (1978.45, 104)],
    [(1979.45, 100), (1979.6, 90.6)],
    [(1980.5, 98.1), (1980.74, 92.5)],
    [(1981.3, 88.7), (1981.66, 88.7), (1982.0, 92.5), (1982.4, 88.7), (1982.76, 90.6), (1983.1, 84.9),
     (1983.5, 83), (1983.86, 81.1), (1984.3, 77.4)],
    [(1985.15, 92.5), (1985.5, 96.2)],
    [(1986.0, 98.1), (1986.15, 97)],
    [(1987.17, 96.2), (1987.5, 92.5), (1988.0, 84.9), (1988.46, 79.2), (1988.9, 77.4), (1989.3, 69.8)],
    [(1992.0, 86.8), (1992.4, 77.4), (1992.9, 73.6), (1993.24, 69.8)],
    [(1993.9, 69.8), (1994.34, 73.6), (1994.9, 71.7)],
    [(1996.15, 81.1), (1996.3, 79)],
    [(1999.1, 73.6), (1999.5, 67.9)],
    [(2001.14, 62.3), (2001.7, 60.4)],
    [(2002.25, 58.5), (2002.8, 60.4)],
    [(2003.16, 60.4), (2003.7, 61.1)],
    [(2004.16, 63.4), (2004.75, 62.3)],
    [(2005.0, 59.6), (2005.55, 61.1)],
    [(2006.1, 60.4), (2006.66, 61.1)],
    [(2007.2, 61.1), (2007.94, 62.3)],
    [(2008.5, 73.6), (2009.05, 75.5)],
    [(2009.23, 78.5), (2009.97, 78.5)],
    [(2010.33, 79.2), (2010.88, 80)],
    [(2011.25, 78.5), (2011.6, 77.4)],
    [(2011.8, 75.5), (2012.17, 77.4)],
    [(2012.54, 75.5), (2012.9, 76.2)],
    [(2013.28, 74.7), (2013.83, 67.9)],
]

y_ranges = [(-3.2, 85.0), (-7.6, 209.2), (-21, 573), (-8.9, 243.5),
            (-20.3, 557), (-22, 598), (-6.7, 206), (-10.2, 311)]
x_range = (1957.88, 2015.12)

observed = [obs_1, obs_2, obs_3, obs_4, obs_5, obs_6, obs_7, obs_8]
predicted = [pred_1, pred_2, pred_3, pred_4, pred_5, pred_6, pred_7, pred_8]

# ---------------- layout geometry (pixels) ----------------
W, H = 1244, 1352
col_px = [(81.5, 612), (705, 1237)]
row_px = [(7, 291), (347, 631), (687, 971), (1027, 1311)]

FONT = "Liberation Sans, Arial, Helvetica, sans-serif"
TXT = "#222222"

fig = go.Figure()
layout = dict(
    width=W, height=H,
    margin=dict(l=0, r=0, t=0, b=0),
    paper_bgcolor="white", plot_bgcolor="white",
    showlegend=False,
    font=dict(family=FONT, size=15, color=TXT),
)

annotations = []
for i in range(8):
    r, c = divmod(i, 2)
    n = i + 1
    xs = "" if n == 1 else str(n)
    x0, x1 = col_px[c]
    yt, yb = row_px[r]
    layout["xaxis" + xs] = dict(
        domain=[x0 / W, x1 / W], range=list(x_range), anchor="y" + xs,
        tickmode="array", tickvals=x_ticks, ticks="outside", ticklen=8, tickwidth=1, tickcolor="black",
        showline=True, linecolor="black", linewidth=1, mirror=True,
        showgrid=False, zeroline=False, ticklabelstandoff=6,
        tickfont=dict(family=FONT, size=15, color=TXT),
    )
    layout["yaxis" + xs] = dict(
        domain=[1 - yb / H, 1 - yt / H], range=list(y_ranges[i]), anchor="x" + xs,
        tickmode="array", tickvals=y_ticks[i], ticks="outside", ticklen=8, tickwidth=1, tickcolor="black",
        showline=True, linecolor="black", linewidth=1, mirror=True,
        showgrid=False, zeroline=False, ticklabelstandoff=6,
        tickfont=dict(family=FONT, size=15, color=TXT),
    )
    # observed points
    ox = [p[0] for p in observed[i]]
    oy = [p[1] for p in observed[i]]
    fig.add_trace(go.Scatter(x=ox, y=oy, mode="markers", xaxis="x" + xs, yaxis="y" + xs,
                             marker=dict(color="#808080", size=8.5, line=dict(width=0)),
                             name="Observed", hoverinfo="x+y"))
    # predicted line with gaps
    px, py = [], []
    for seg in predicted[i]:
        if px:
            px.append(None)
            py.append(None)
        px += [p[0] for p in seg]
        py += [p[1] for p in seg]
    fig.add_trace(go.Scatter(x=px, y=py, mode="lines", xaxis="x" + xs, yaxis="y" + xs,
                             line=dict(color="black", width=2.3), connectgaps=False,
                             name="Predicted", hoverinfo="x+y"))
    annotations.append(dict(text=titles[i], xref="x" + xs + " domain", yref="y" + xs + " domain",
                            x=0.5, y=1 - 23 / 284, xanchor="center", yanchor="middle",
                            showarrow=False, font=dict(family=FONT, size=15, color=TXT)))

# y-axis title
annotations.append(dict(text="CPUE/1000", xref="paper", yref="paper", x=18.5 / W, y=1 - 830 / H,
                        textangle=-90, showarrow=False, xanchor="center", yanchor="middle",
                        font=dict(family=FONT, size=15, color=TXT)))
# legend (panel 8)
annotations.append(dict(text="Observed", xref="paper", yref="paper", x=1159 / W, y=1 - 1048.7 / H,
                        xanchor="left", yanchor="middle", showarrow=False,
                        font=dict(family=FONT, size=15, color=TXT)))
annotations.append(dict(text="Predicted", xref="paper", yref="paper", x=1159 / W, y=1 - 1066.3 / H,
                        xanchor="left", yanchor="middle", showarrow=False,
                        font=dict(family=FONT, size=15, color=TXT)))
shapes = [
    dict(type="rect", xref="paper", yref="paper", x0=1127.5 / W, x1=1133.5 / W,
         y0=1 - 1048 / H, y1=1 - 1042 / H, fillcolor="#808080", line=dict(width=0)),
    dict(type="line", xref="paper", yref="paper", x0=1117 / W, x1=1145 / W,
         y0=1 - 1064.7 / H, y1=1 - 1064.7 / H, line=dict(color="black", width=2.3)),
]
layout["annotations"] = annotations
layout["shapes"] = shapes
fig.update_layout(**layout)

fig.write_html("out.html")
